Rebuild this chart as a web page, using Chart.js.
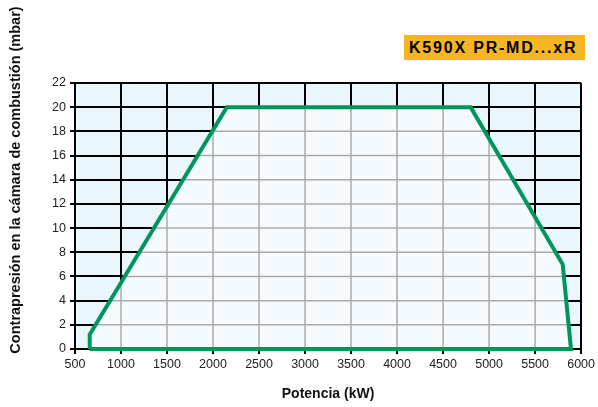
<!DOCTYPE html>
<html>
<head>
<meta charset="utf-8">
<script src="https://cdn.jsdelivr.net/npm/chart.js@4.4.1/dist/chart.umd.min.js"></script>
<style>
  html, body { margin: 0; padding: 0; background: #fff; }
  #wrap { position: relative; width: 598px; height: 407px; }
  #model {
    position: absolute; left: 404px; top: 35px; width: 181px; height: 25px;
    background: #f7b521; color: #000;
    font: bold 16px "Liberation Sans", Arial, sans-serif; letter-spacing: 1.8px;
    line-height: 25px; padding-left: 5px; box-sizing: border-box; white-space: nowrap;
  }
</style>
</head>
<body>
<div id="wrap">
  <canvas id="chart" width="598" height="407"></canvas>
  <div id="model">K590X PR-MD...xR</div>
</div>
<script>
// working range envelope (kW, mbar)
const powerKW = [660, 660, 2150, 4800, 5800, 5890];
const pressureMbar = [0, 1.2, 20, 20, 7, 0];
const xTicks = [500, 1000, 1500, 2000, 2500, 3000, 3500, 4000, 4500, 5000, 5500, 6000];
const yTicks = [0, 2, 4, 6, 8, 10, 12, 14, 16, 18, 20, 22];

const envelope = powerKW.map((x, i) => ({ x: x, y: pressureMbar[i] }));
const outline = envelope.concat([envelope[0]]);

const fontFamily = "'Liberation Sans', Arial, sans-serif";

const areaBackground = {
    id: 'areaBackground',
    beforeDraw(chart) {
        const { ctx, chartArea: a } = chart;
        ctx.save();
        ctx.fillStyle = '#e9f6fc';
        ctx.fillRect(a.left, a.top, a.right - a.left, a.bottom - a.top);
        ctx.restore();
    }
};

// gray grid lines inside the envelope only
const innerGrid = {
    id: 'innerGrid',
    afterDatasetDraw(chart, args) {
        if (args.index !== 0) return;
        const { ctx, chartArea: a, scales } = chart;
        const pts = args.meta.data;
        ctx.save();
        ctx.beginPath();
        pts.forEach((p, i) => i ? ctx.lineTo(p.x, p.y) : ctx.moveTo(p.x, p.y));
        ctx.closePath();
        ctx.clip();
        ctx.strokeStyle = '#aaaaaa';
        ctx.lineWidth = 1.5;
        ctx.beginPath();
        xTicks.forEach(v => {
            const px = scales.x.getPixelForValue(v);
            ctx.moveTo(px, a.top); ctx.lineTo(px, a.bottom);
        });
        yTicks.forEach(v => {
            const py = scales.y.getPixelForValue(v);
            ctx.moveTo(a.left, py); ctx.lineTo(a.right, py);
        });
        ctx.stroke();
        ctx.restore();
    }
};

const yTitle = {
    id: 'yTitle',
    afterDraw(chart) {
        const ctx = chart.ctx;
        ctx.save();
        ctx.translate(16, 180);
        ctx.rotate(-Math.PI / 2);
        ctx.font = 'bold 14.5px ' + fontFamily;
        ctx.fillStyle = '#111';
        ctx.textAlign = 'center';
        ctx.textBaseline = 'middle';
        ctx.fillText('Contrapresión en la cámara de combustión (mbar)', 0, 0);
        ctx.restore();
    }
};

new Chart(document.getElementById('chart'), {
    type: 'line',
    data: {
        datasets: [{
            data: envelope,
            fill: 'origin',
            backgroundColor: '#f5fafe',
            borderWidth: 0,
            pointRadius: 0,
            order: 2
        }, {
            data: outline,
            fill: false,
            borderColor: '#00955a',
            borderWidth: 4,
            borderJoinStyle: 'miter',
            pointRadius: 0,
            tension: 0,
            clip: false,
            order: 1
        }]
    },
    options: {
        responsive: false,
        animation: false,
        layout: { padding: { left: 0, top: 83, right: 15, bottom: 0 } },
        plugins: {
            legend: { display: false },
            tooltip: { enabled: false }
        },
        scales: {
            x: {
                type: 'linear',
                min: 500,
                max: 6000,
                afterBuildTicks: s => { s.ticks = xTicks.map(v => ({ value: v })); },
                afterFit: s => { s.height = 58; },
                ticks: {
                    color: '#222',
                    font: { size: 12.5, family: fontFamily },
                    padding: 3,
                    maxRotation: 0,
                    callback: v => String(v)
                },
                grid: { color: '#000', lineWidth: 2, tickLength: 5, tickColor: '#000' },
                border: { color: '#000', width: 2 },
                title: {
                    display: true,
                    text: 'Potencia (kW)',
                    color: '#111',
                    font: { size: 14, weight: 'bold', family: fontFamily },
                    padding: { top: 8 }
                }
            },
            y: {
                min: 0,
                max: 22,
                afterBuildTicks: s => { s.ticks = yTicks.map(v => ({ value: v })); },
                afterFit: s => { s.width = 75; },
                ticks: {
                    color: '#222',
                    font: { size: 12.5, family: fontFamily },
                    padding: 4,
                    callback: v => String(v)
                },
                grid: { color: '#000', lineWidth: 2, tickLength: 5, tickColor: '#000' },
                border: { color: '#000', width: 2 }
            }
        }
    },
    plugins: [areaBackground, innerGrid, yTitle]
});
</script>
</body>
</html>
